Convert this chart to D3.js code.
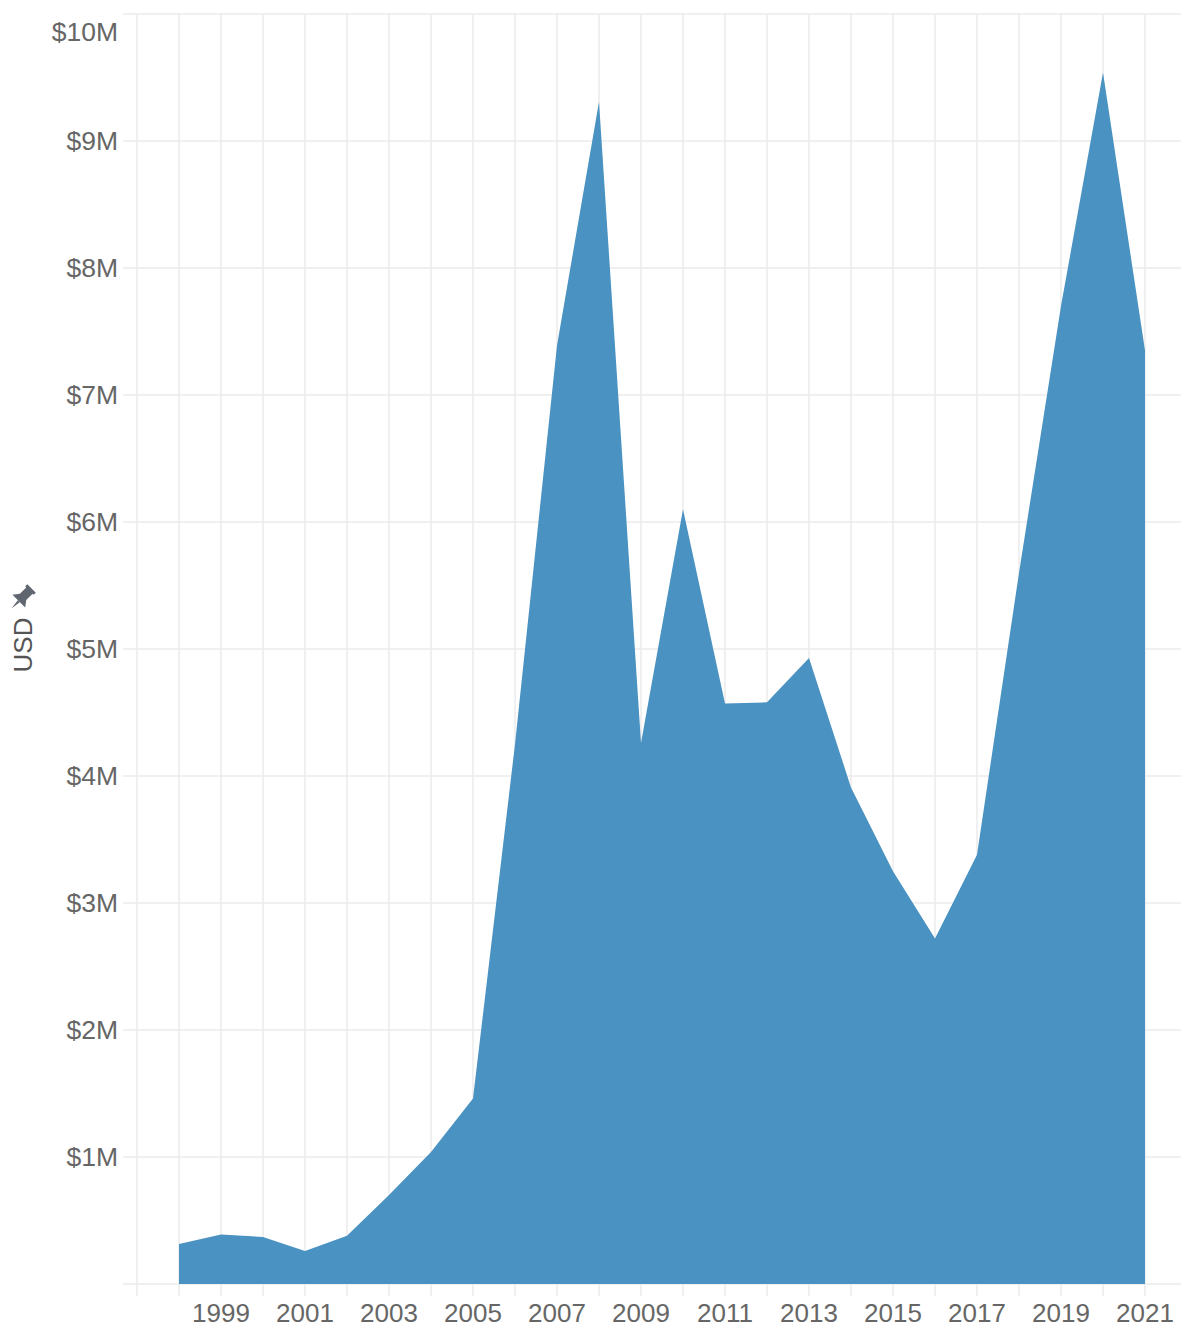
<!DOCTYPE html>
<html>
<head>
<meta charset="utf-8">
<script src="https://cdn.jsdelivr.net/npm/d3@7"></script>
<style>
  html, body { margin: 0; padding: 0; background: #fff; }
  svg { display: block; }
  text { font-family: "Liberation Sans", Arial, Helvetica, sans-serif; }
</style>
</head>
<body>
<svg id="chart" width="1181" height="1330"></svg>
<script>
// ---- data (USD, millions) ----
const years = [1998,1999,2000,2001,2002,2003,2004,2005,2006,2007,2008,2009,2010,2011,2012,2013,2014,2015,2016,2017,2018,2019,2020,2021];
const usdMillions = [0.315,0.39,0.37,0.26,0.38,0.70,1.04,1.46,4.25,7.39,9.31,4.26,6.10,4.57,4.58,4.93,3.91,3.25,2.72,3.38,5.6,7.7,9.54,7.35];
const yTickValues = [1,2,3,4,5,6,7,8,9,10];
const yTickLabels = ["$1M","$2M","$3M","$4M","$5M","$6M","$7M","$8M","$9M","$10M"];
const xLabelYears = [1999,2001,2003,2005,2007,2009,2011,2013,2015,2017,2019,2021];
const yAxisTitle = "USD";

const data = years.map((y, i) => ({ year: y, value: usdMillions[i] }));

const svg = d3.select("#chart");
const plotLeft = 137, plotRight = 1181, plotTop = 14, plotBottom = 1284;

const x = d3.scaleLinear().domain([1997, 2021]).range([plotLeft, 1145]);
const y = d3.scaleLinear().domain([0, 10]).range([plotBottom, plotTop]);

const gridColor = "#ebebeb";
const labelColor = "#666666";

// horizontal gridlines
svg.append("g").selectAll("line")
  .data([0].concat(yTickValues))
  .join("line")
  .attr("x1", plotLeft - 14).attr("x2", plotRight)
  .attr("y1", d => y(d)).attr("y2", d => y(d))
  .attr("stroke", gridColor).attr("stroke-width", 1.5);

// vertical gridlines (one per year) plus left border
const vYears = [1997].concat(years);
svg.append("g").selectAll("line")
  .data(vYears)
  .join("line")
  .attr("x1", d => x(d)).attr("x2", d => x(d))
  .attr("y1", plotTop).attr("y2", plotBottom + 12)
  .attr("stroke", gridColor).attr("stroke-width", 1.5);

// area
const area = d3.area()
  .x(d => x(d.year))
  .y0(y(0))
  .y1(d => y(d.value));

svg.append("path")
  .datum(data)
  .attr("d", area)
  .attr("fill", "#4a92c2");

// y tick labels
svg.append("g").selectAll("text")
  .data(yTickValues)
  .join("text")
  .attr("x", 118)
  .attr("y", d => d === 10 ? y(d) + 18 : y(d))
  .attr("dy", "0.35em")
  .attr("text-anchor", "end")
  .attr("font-size", 26.5)
  .attr("fill", labelColor)
  .text((d, i) => yTickLabels[i]);

// x tick labels
svg.append("g").selectAll("text")
  .data(xLabelYears)
  .join("text")
  .attr("x", d => x(d))
  .attr("y", 1322)
  .attr("text-anchor", "middle")
  .attr("font-size", 26)
  .attr("fill", labelColor)
  .text(d => d);

// y axis title with pin icon
const title = svg.append("g").attr("transform", "translate(32,645) rotate(-90)");
title.append("text")
  .attr("x", 0).attr("y", 0)
  .attr("text-anchor", "middle")
  .attr("font-size", 26)
  .attr("fill", "#555555")
  .text(yAxisTitle);

// pushpin icon (above the title)
const pin = svg.append("g")
  .attr("transform", "translate(22,598) rotate(45) scale(1.5)")
  .attr("fill", "#5f6670");
pin.append("path").attr("d", "M-4,-9 L4,-9 L4,-7 L3,-7 L3,-1 L6,3 L-6,3 L-3,-1 L-3,-7 L-4,-7 Z");
pin.append("path").attr("d", "M-0.9,3 L0.9,3 L0,10 Z");
</script>
</body>
</html>
